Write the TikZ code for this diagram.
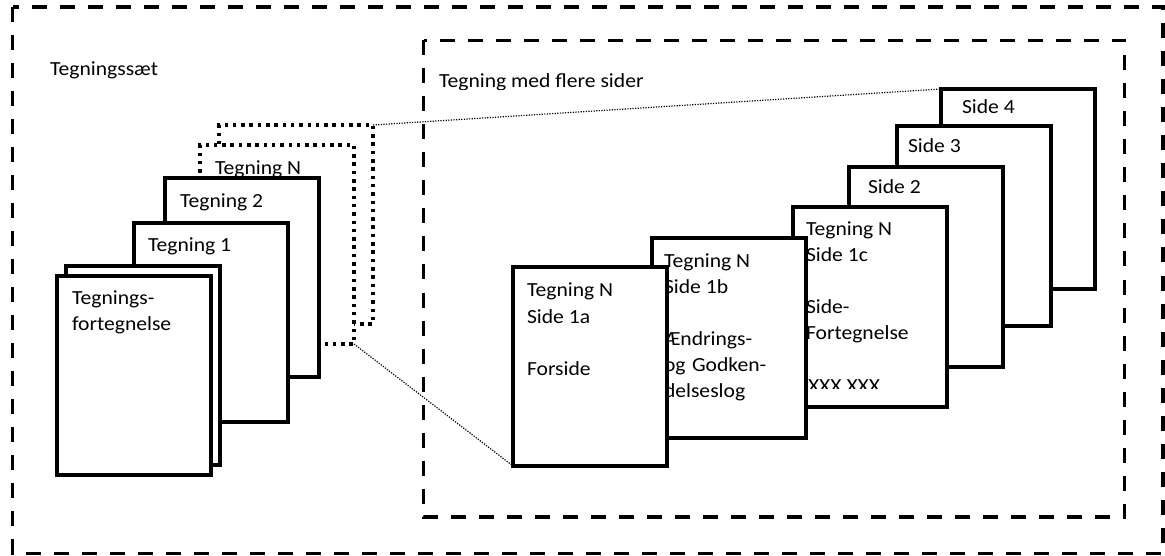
\documentclass[tikz,border=0pt]{standalone}
\usepackage{fontspec}
\setmainfont{Carlito}
\newcommand\Lh[1]{\hbox{#1}}
\newcommand\Wd[1]{\scalebox{1.08}[1]{#1}}
\newcommand\Stack[1]{\vtop{\baselineskip=26pt\lineskiplimit=-100pt\lineskip=0pt #1}}
\tikzset{
 pg/.style={draw, fill=white, line width=3.5pt, minimum width=154pt, minimum height=199pt, anchor=north west, inner sep=0pt, outer sep=0pt},
 dpg/.style={pg, dash pattern=on 3.5pt off 4.8pt},
 frame/.style={line width=3.5pt, dash pattern=on 15pt off 13pt},
 link/.style={line width=1.2pt, dash pattern=on 1.2pt off 1.4pt},
 txt/.style={anchor=base west, inner sep=0pt, outer sep=0pt, font=\fontsize{20pt}{26pt}\selectfont, text=black}
}
\begin{document}
\begin{tikzpicture}[x=1pt,y=-1pt]
\fill[white] (0,0) rectangle (1165,556);
\useasboundingbox (0,0) rectangle (1165,556);
% frames
\draw[frame] (12.5,7) rectangle (1163,553.5);
\draw[frame] (423.5,40.5) rectangle (1124.5,517);
\node[txt] (tset) at (50,76) {\Wd{Tegningssæt}};
\begin{scope}
\clip (430,60) rectangle (700,89.5);
\node[txt] (tmed) at (439,88) {\Wd{Tegning med flere sider}};
\end{scope}
% left stack
\node[dpg] (dback) at (219,125) {};
\node[dpg] (dn) at (200,145) {};
\node[txt] (tn) at (215,175) {\Wd{Tegning N}};
\node[pg] (t2) at (165,178) {};
\node[txt] (tt2) at (180,208) {\Wd{Tegning 2}};
\node[pg] (t1) at (134,223) {};
\node[txt] (tt1) at (148,252) {\Wd{Tegning 1}};
\node[pg] (fb) at (66,266) {};
\node[pg] (ff) at (57,276) {};
\node[txt] (tff) at (72,305) {\Wd{\Stack{\Lh{Tegnings-}\Lh{fortegnelse}}}};
% right stack
\node[pg, minimum height=200pt] (s4) at (941,89) {};
\node[txt] (ts4) at (962,114) {\Wd{Side 4}};
\node[pg, minimum height=200pt] (s3) at (897,126) {};
\node[txt] (ts3) at (908,153) {\Wd{Side 3}};
\node[pg, minimum height=200pt] (s2) at (849,167) {};
\node[txt] (ts2) at (868,194) {\Wd{Side 2}};
\node[pg, minimum height=200pt] (s1c) at (793,207) {};
\node[txt] (ts1c) at (806,236) {\Wd{\Stack{\Lh{Tegning N}\Lh{Side 1c}\Lh{}\Lh{Side-}\Lh{Fortegnelse}}}};
\begin{scope}
\clip (795,360) rectangle (945,388);
\node[txt] (txx) at (808,392) {\Wd{XXX XXX}};
\end{scope}
\node[pg, minimum height=200pt] (s1b) at (652,238) {};
\node[txt] (ts1b) at (664,268) {\Wd{\Stack{\Lh{Tegning N}\Lh{Side 1b}\Lh{}\Lh{Ændrings-}\Lh{og\hspace{0.3em}Godken-}\Lh{delseslog}}}};
\node[pg] (s1a) at (513,267) {};
\node[txt] (ts1a) at (527,297) {\Wd{\Stack{\Lh{Tegning N}\Lh{Side 1a}\Lh{}\Lh{Forside}}}};
% links
\draw[link] (dback.north east) -- (s4.north west);
\draw[link] (dn.south east) -- (s1a.south west);
\end{tikzpicture}
\end{document}
